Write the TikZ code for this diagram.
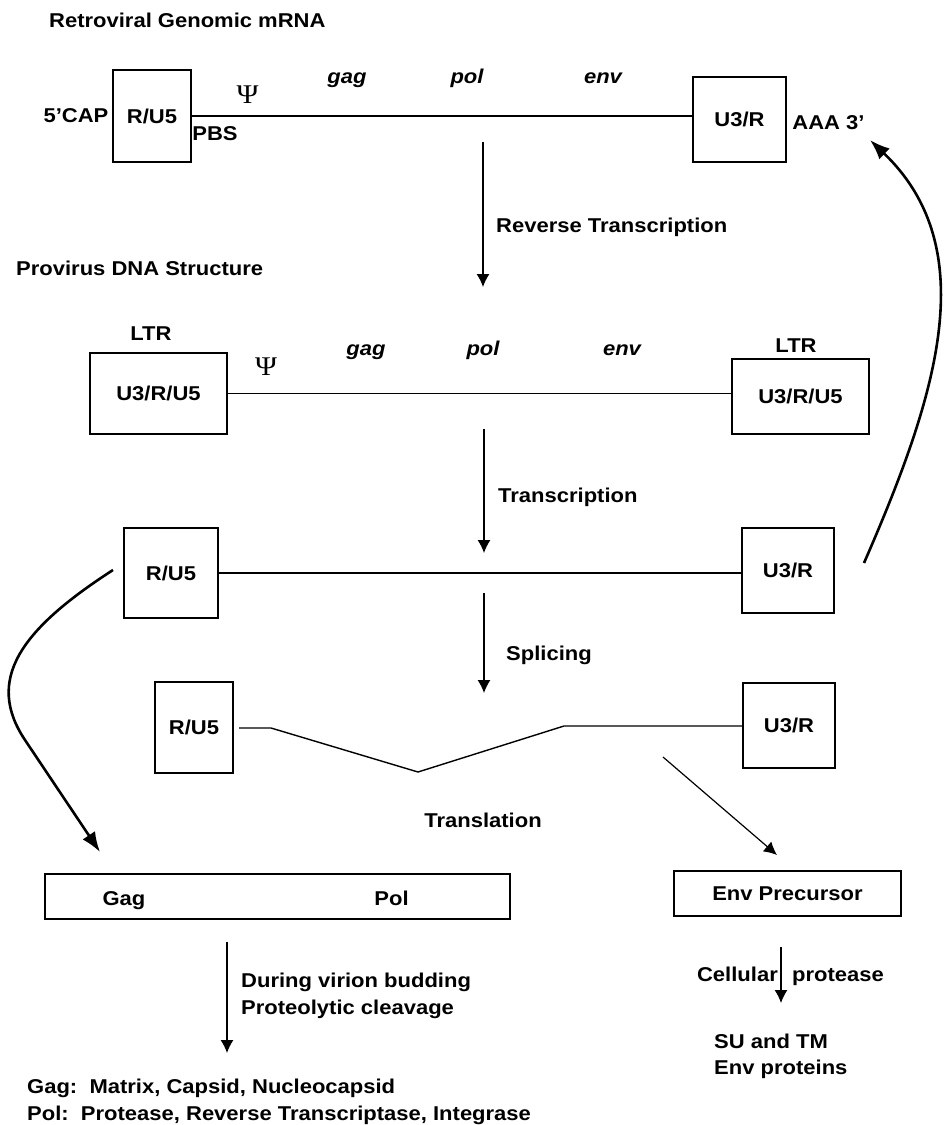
\documentclass[tikz,border=0pt]{standalone}
\usepackage{fontspec}
\setmainfont{Liberation Sans}[FakeStretch=1.1]
\newfontfamily\psifont{Liberation Serif}[FakeStretch=1.1]
\usetikzlibrary{arrows.meta}
\newcommand{\lblsize}{\fontsize{20}{24}\selectfont}

\begin{document}
\begin{tikzpicture}[x=1pt, y=-1pt,
    box/.style={draw=black, line width=1.6pt, inner sep=0pt, font=\lblsize\bfseries},
    txt/.style={inner sep=0pt, font=\lblsize\bfseries},
    gene/.style={inner sep=0pt, font=\lblsize\bfseries\itshape, anchor=base},
    psi/.style={inner sep=0pt, font=\psifont\fontsize{27}{30}\selectfont},
    strand/.style={line width=1.4pt},
    flow/.style={-{Latex[length=13pt,width=13pt]}, line width=1.2pt},
    bigflow/.style={-{Latex[length=20pt,width=15pt]}, line width=2.6pt}]
  \useasboundingbox (0,0) rectangle (945,1125);

  % ---- genomic mRNA
  \node[txt, anchor=base west] (ttlRNA) at (49,27) {Retroviral Genomic mRNA};
  \node[box, minimum width=78pt, minimum height=92pt] (capL) at (152,116) {R/U5};
  \node[box, minimum width=93pt, minimum height=85pt] (capR) at (739.5,119.5) {U3/R};
  \draw[strand] (capL.east) -- (capL.east -| capR.west);
  \node[txt, anchor=base] (cap5) at (76,122) {5’CAP};
  \node[txt, anchor=base] (pbs) at (215,140) {PBS};
  \node[psi] (psiA) at (247.5,95) {Ψ};
  \node[gene] (gagA) at (347,83) {gag};
  \node[gene] (polA) at (467,83) {pol};
  \node[gene] (envA) at (603,83) {env};
  \node[txt, anchor=base] (polyA) at (828.5,129) {AAA 3’};

  % ---- reverse transcription
  \coordinate (rtTop) at (483,142);
  \coordinate (rtEnd) at (483,287);
  \draw[flow] (rtTop) -- (rtEnd);
  \node[txt, anchor=base west] (rtLbl) at (496,232) {Reverse Transcription};

  % ---- provirus
  \node[txt, anchor=base west] (ttlDNA) at (16,275) {Provirus DNA Structure};
  \node[box, minimum width=137pt, minimum height=81pt] (ltrL) at (158.5,393.5) {U3/R/U5};
  \node[box, minimum width=137pt, minimum height=75pt] (ltrR) at (800.5,396.5) {U3/R/U5};
  \draw[strand] (ltrL.east) -- (ltrL.east -| ltrR.west);
  \node[txt, anchor=base] (ltrLlbl) at (151,340) {LTR};
  \node[txt, anchor=base] (ltrRlbl) at (796,352) {LTR};
  \node[psi] (psiB) at (266,367) {Ψ};
  \node[gene] (gagB) at (366,355) {gag};
  \node[gene] (polB) at (483,355) {pol};
  \node[gene] (envB) at (622,355) {env};

  % ---- transcription
  \coordinate (tcTop) at (484,429);
  \coordinate (tcEnd) at (484,553);
  \draw[flow] (tcTop) -- (tcEnd);
  \node[txt, anchor=base west] (tcLbl) at (498,502) {Transcription};

  % ---- full length transcript
  \node[box, minimum width=94pt, minimum height=90pt] (mrL) at (171,573) {R/U5};
  \node[box, minimum width=92pt, minimum height=85pt] (mrR) at (788,570.5) {U3/R};
  \draw[strand] (mrL.east) -- (mrL.east -| mrR.west);

  % ---- splicing
  \coordinate (spTop) at (484,593);
  \coordinate (spEnd) at (484,693);
  \draw[flow] (spTop) -- (spEnd);
  \node[txt, anchor=base west] (spLbl) at (506,660) {Splicing};

  % ---- spliced transcript
  \node[box, minimum width=78pt, minimum height=91pt] (smL) at (194,727.5) {R/U5};
  \node[box, minimum width=92pt, minimum height=85pt] (smR) at (789,725.5) {U3/R};
  \coordinate (spl0) at (239,728);
  \coordinate (spl1) at (271,728);
  \coordinate (spl2) at (418,772);
  \coordinate (spl3) at (564,726);
  \draw[strand] (spl0) -- (spl1) -- (spl2) -- (spl3) -- (spl3 -| smR.west);

  % ---- translation
  \coordinate (tlTop) at (663,757);
  \coordinate (tlEnd) at (777,855);
  \draw[flow] (tlTop) -- (tlEnd);
  \node[txt, anchor=base] (tlLbl) at (483,827) {Translation};

  % ---- unspliced RNA goes back to the genome and to Gag/Pol
  \coordinate (pkTop) at (864,563);
  \coordinate (pkEnd) at (870,140);
  \draw[bigflow] (pkTop) .. controls (935,400) and (985,250) .. (pkEnd);
  \coordinate (gpTop) at (113,570);
  \coordinate (gpEnd) at (100,852);
  \draw[bigflow] (gpTop) .. controls (20,630) and (-15,680) .. (25,740) -- (gpEnd);

  % ---- precursor proteins
  \node[box, minimum width=465pt, minimum height=45pt] (gagpol) at (277.5,896.5) {};
  \node[txt, anchor=base] (gagTxt) at (124,905) {Gag};
  \node[txt, anchor=base] (polTxt) at (391.5,905) {Pol};
  \node[box, minimum width=227pt, minimum height=45pt] (envpre) at (787.5,893.5) {Env Precursor};

  % ---- processing
  \coordinate (pcTop) at (227,942);
  \coordinate (pcEnd) at (227,1053);
  \draw[flow] (pcTop) -- (pcEnd);
  \node[txt, anchor=base west] (pcLbl1) at (241,987) {During virion budding};
  \node[txt, anchor=base west] (pcLbl2) at (241,1014) {Proteolytic cleavage};
  \coordinate (cpTop) at (781,947);
  \coordinate (cpEnd) at (781,1003);
  \draw[flow] (cpTop) -- (cpEnd);
  \node[txt, anchor=base east] (cpLbl1) at (778,981) {Cellular};
  \node[txt, anchor=base west] (cpLbl2) at (792,981) {protease};

  % ---- mature proteins
  \node[txt, anchor=base west] (matGag) at (27,1093) {Gag:\ \ Matrix, Capsid, Nucleocapsid};
  \node[txt, anchor=base west] (matPol) at (27,1120) {Pol:\ \ Protease, Reverse Transcriptase, Integrase};
  \node[txt, anchor=base west] (matEnv1) at (714,1048) {SU and TM};
  \node[txt, anchor=base west] (matEnv2) at (714,1074) {Env proteins};
\end{tikzpicture}
\end{document}
